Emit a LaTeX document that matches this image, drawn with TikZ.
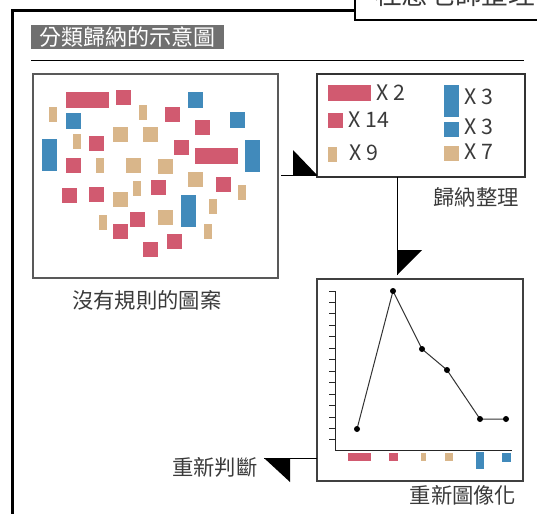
\documentclass[tikz,border=0pt]{standalone}
\usepackage{fontspec}
\setmainfont{Noto Sans CJK TC}
\definecolor{barred}{RGB}{209,90,112}
\definecolor{barblue}{RGB}{65,138,187}
\definecolor{bartan}{RGB}{217,182,138}
\definecolor{txtgray}{RGB}{58,58,58}
\definecolor{ttlgray}{RGB}{112,112,112}
\tikzset{
  box/.style={draw=#1, line width=1pt, inner sep=0pt, outer sep=0pt},
  caption/.style={font=\fontsize{16}{16}\selectfont, text=txtgray, inner sep=0pt},
  link/.style={line width=0.75pt},
  wedge/.style={fill=black},
}
\begin{document}
\begin{tikzpicture}[x=0.75pt,y=0.75pt,yscale=-1,xscale=1]
\useasboundingbox (0,0) rectangle (537,514);
\clip (0,0) rectangle (537,514);
% frame and header
\draw [line width=2.25pt] (12,520) -- (12,10) -- (355,10) ;
\draw [line width=1.5pt,fill=white] (355,-10) -- (355,20) -- (545,20) -- (545,-10) ;
\node (author) [anchor=base west, inner sep=0pt, font=\fontsize{20}{20}\selectfont, text=txtgray] at (375,5) {桂惠老師整理};
\fill [ttlgray] (31,25) rectangle (224,49) ;
\node (title) [anchor=west, inner sep=0pt, font=\fontsize{16.5}{16.5}\selectfont, text=white] at (39,37) {分類歸納的示意圖};
\draw [line width=0.75pt] (31,60) -- (524,60) ;
% boxes
\node (pattern) [box=black!65, minimum width=183.75pt, minimum height=153pt] at (155.5,176) {};
\node (legend) [box=black!80, minimum width=156pt, minimum height=77.25pt] at (421,125.5) {};
\node (chart) [box=black!75, minimum width=154.5pt, minimum height=151.5pt] at (420,380) {};
% scattered shapes
\foreach \x/\y in {116/90,165/107,195/120,89/136,174/140,66/158,151/180,216/177,62/188,89/187,130/212,113/224,167/234,143/242}
  \fill [barred] (\x,\y) rectangle ++(15,15) ;
\foreach \x/\y in {66/92,195/148}
  \fill [barred] (\x,\y) rectangle ++(43,16) ;
\foreach \x/\y in {188/92,66/113,230/112}
  \fill [barblue] (\x,\y) rectangle ++(15,16) ;
\foreach \x/\y in {42/139,245/140,181/195}
  \fill [barblue] (\x,\y) rectangle ++(15,32) ;
\foreach \x/\y in {49/107,139/105,73/134,96/158,133/181,238/185,209/199,99/215,204/224}
  \fill [bartan] (\x,\y) rectangle ++(8,15) ;
\foreach \x/\y in {113/127,143/127,126/158,158/159,188/172,113/192,158/210}
  \fill [bartan] (\x,\y) rectangle ++(15,15) ;
% legend
\fill [barred] (328,85) rectangle (371,101) ;
\fill [barred] (328,113) rectangle (343,128) ;
\fill [bartan] (328,147) rectangle (337,162) ;
\fill [barblue] (444,85) rectangle (459,117) ;
\fill [barblue] (444,122) rectangle (459,137) ;
\fill [bartan] (444,146) rectangle (459,161) ;
\node (lg2) [caption, anchor=west] at (376,93) {X 2};
\node (lg14) [caption, anchor=west] at (348,120) {X 14};
\node (lg9) [caption, anchor=west] at (349,153) {X 9};
\node (lgtall) [caption, anchor=west] at (464,97) {X 3};
\node (lgsq) [caption, anchor=west] at (464,127) {X 3};
\node (lg7) [caption, anchor=west] at (464,152) {X 7};
% chart
\draw [line width=0.75pt, black!85] (335,291) -- (335,450) -- (512,450) ;
\foreach \i in {0,...,13}
  \draw [line width=0.75pt, black!85] (329,{291+\i*11.46}) -- (335,{291+\i*11.46}) ;
\draw [line width=0.75pt, black!80] (357,429) -- (393,291) -- (422,349) -- (447,370) -- (480,419) -- (506,419) ;
\foreach \x/\y in {357/429,393/291,422/349,447/370,480/419,506/419}
  \fill (\x,\y) circle [radius=3] ;
\fill [barred] (348,453) rectangle (371,461) ;
\fill [barred] (389,453) rectangle (398,461) ;
\fill [bartan] (421,453) rectangle (426,461) ;
\fill [bartan] (445,453) rectangle (453,461) ;
\fill [barblue] (476,452) rectangle (484,469) ;
\fill [barblue] (502,453) rectangle (511,462) ;
% connectors
\coordinate (tipA) at ([yshift=-1.5pt]legend.south west) ;
\draw [link] ([xshift=2.25pt,yshift=-1.5pt]pattern.east |- legend.south) -- (tipA) ;
\fill [wedge] (tipA) -- ++(-24,0) -- ++(0,-25) -- cycle ;
\coordinate (tipB) at ([xshift=-18pt,yshift=-3pt]legend.south |- chart.north) ;
\draw [link] ([xshift=-18pt]legend.south) -- (tipB) ;
\fill [wedge] (tipB) -- ++(0,-25) -- ++(25,0) -- cycle ;
\coordinate (tipC) at ([yshift=58.5pt]chart.west -| 264,0) ;
\draw [link] ([yshift=58.5pt]chart.west) -- (tipC) ;
\fill [wedge] (tipC) -- ++(26,0) -- ++(0,24) -- cycle ;
% captions
\node (lblpattern) [caption] at (147,300) {沒有規則的圖案};
\node (lblsort) [caption] at (476,197) {歸納整理};
\node (lbljudge) [caption] at (215,467) {重新判斷};
\node (lblredraw) [caption] at (463,495) {重新圖像化};
\end{tikzpicture}
\end{document}
